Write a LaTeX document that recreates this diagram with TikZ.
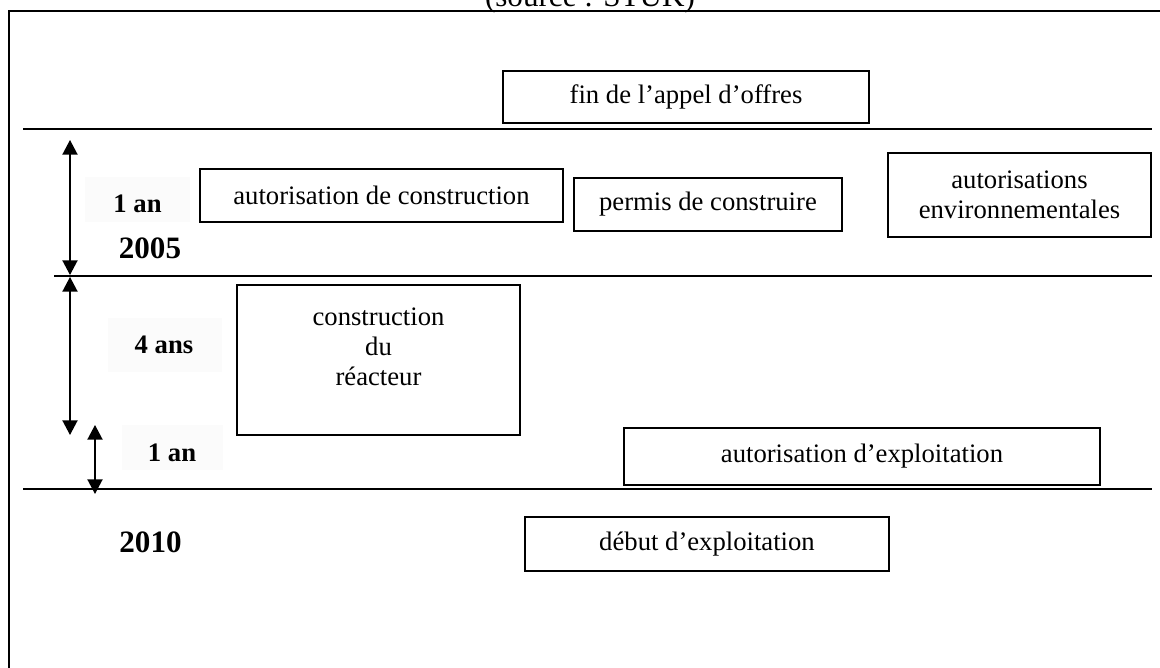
\documentclass[tikz,border=0pt]{standalone}
\usepackage{fontspec}
\setmainfont{Liberation Serif}
\usetikzlibrary{arrows.meta}
\tikzset{
  box/.style={draw, line width=0.8pt, inner sep=0pt, align=center,
    font=\fontsize{12pt}{13.5pt}\selectfont},
  txt/.style={inner sep=0pt, align=center, font=\fontsize{12pt}{13.5pt}\selectfont},
  lbl/.style={inner sep=0pt, font=\fontsize{12pt}{14pt}\selectfont\bfseries},
  year/.style={inner sep=0pt, font=\fontsize{14pt}{16pt}\selectfont\bfseries},
  bg/.style={fill=black!1.5, draw=none},
  hline/.style={line width=0.7pt},
  frame/.style={line width=0.9pt},
  dim/.style={line width=0.7pt, {Triangle[width=6.8pt,length=6.6pt]}-{Triangle[width=6.8pt,length=6.6pt]}}
}
\begin{document}
\begin{tikzpicture}[x=0.45pt, y=-0.45pt]
\clip (0,0) rectangle (1160,668);
\fill[white] (0,0) rectangle (1160,668);

% source (cut off at top, as in the reference)
\node[inner sep=0pt, anchor=base, font=\fontsize{14pt}{16pt}\selectfont] (src) at (590,7) {(source : STUK)};

% frame
\coordinate (f1) at (9,668);
\coordinate (f2) at (9,11);
\coordinate (f3) at (1165,11);
\draw[frame] (f1) -- (f2) -- (f3);

% horizontal lines
\coordinate (l1a) at (23,129);  \coordinate (l1b) at (1152,129);
\coordinate (l2a) at (54,276);  \coordinate (l2b) at (1152,276);
\coordinate (l3a) at (23,489);  \coordinate (l3b) at (1152,489);
\draw[hline] (l1a) -- (l1b);
\draw[hline] (l2a) -- (l2b);
\draw[hline] (l3a) -- (l3b);

% faint label backgrounds
\fill[bg] (85,177) rectangle (190,222);
\fill[bg] (108,318) rectangle (222,372);
\fill[bg] (122,425) rectangle (223,470);

% boxes
\node[box, minimum width=366*0.45pt, minimum height=52*0.45pt] (fin) at (686,97) {fin de l’appel d’offres};
\node[box, minimum width=363*0.45pt, minimum height=53*0.45pt] (autc) at (381.5,195.5) {autorisation de construction};
\node[box, minimum width=268*0.45pt, minimum height=53*0.45pt] (perm) at (708,204.5) {permis de construire};
\node[box, minimum width=263*0.45pt, minimum height=84*0.45pt] (env) at (1019.5,195) {autorisations\\environnementales};
\node[box, minimum width=283*0.45pt, minimum height=150*0.45pt] (cr) at (378.5,360) {};
\node[txt] (crt) at (378.5,347) {construction\\du\\réacteur};
\node[box, minimum width=476*0.45pt, minimum height=57*0.45pt] (aexp) at (862,456.5) {autorisation d’exploitation};
\node[box, minimum width=364*0.45pt, minimum height=54*0.45pt] (deb) at (707,544) {début d’exploitation};

% labels
\node[lbl] (an1) at (137.5,204) {1 an};
\node[year] (y2005) at (150,248) {2005};
\node[lbl] (ans4) at (164,345) {4 ans};
\node[lbl] (an2) at (172,453) {1 an};
\node[year] (y2010) at (150.5,542.5) {2010};

% dimension arrows
\coordinate (a1t) at (70,140); \coordinate (a1b) at (70,275);
\coordinate (a2t) at (70,277); \coordinate (a2b) at (70,435);
\coordinate (a3t) at (95,425); \coordinate (a3b) at (95,494);
\draw[dim] (a1t) -- (a1b);
\draw[dim] (a2t) -- (a2b);
\draw[dim] (a3t) -- (a3b);
\end{tikzpicture}
\end{document}
